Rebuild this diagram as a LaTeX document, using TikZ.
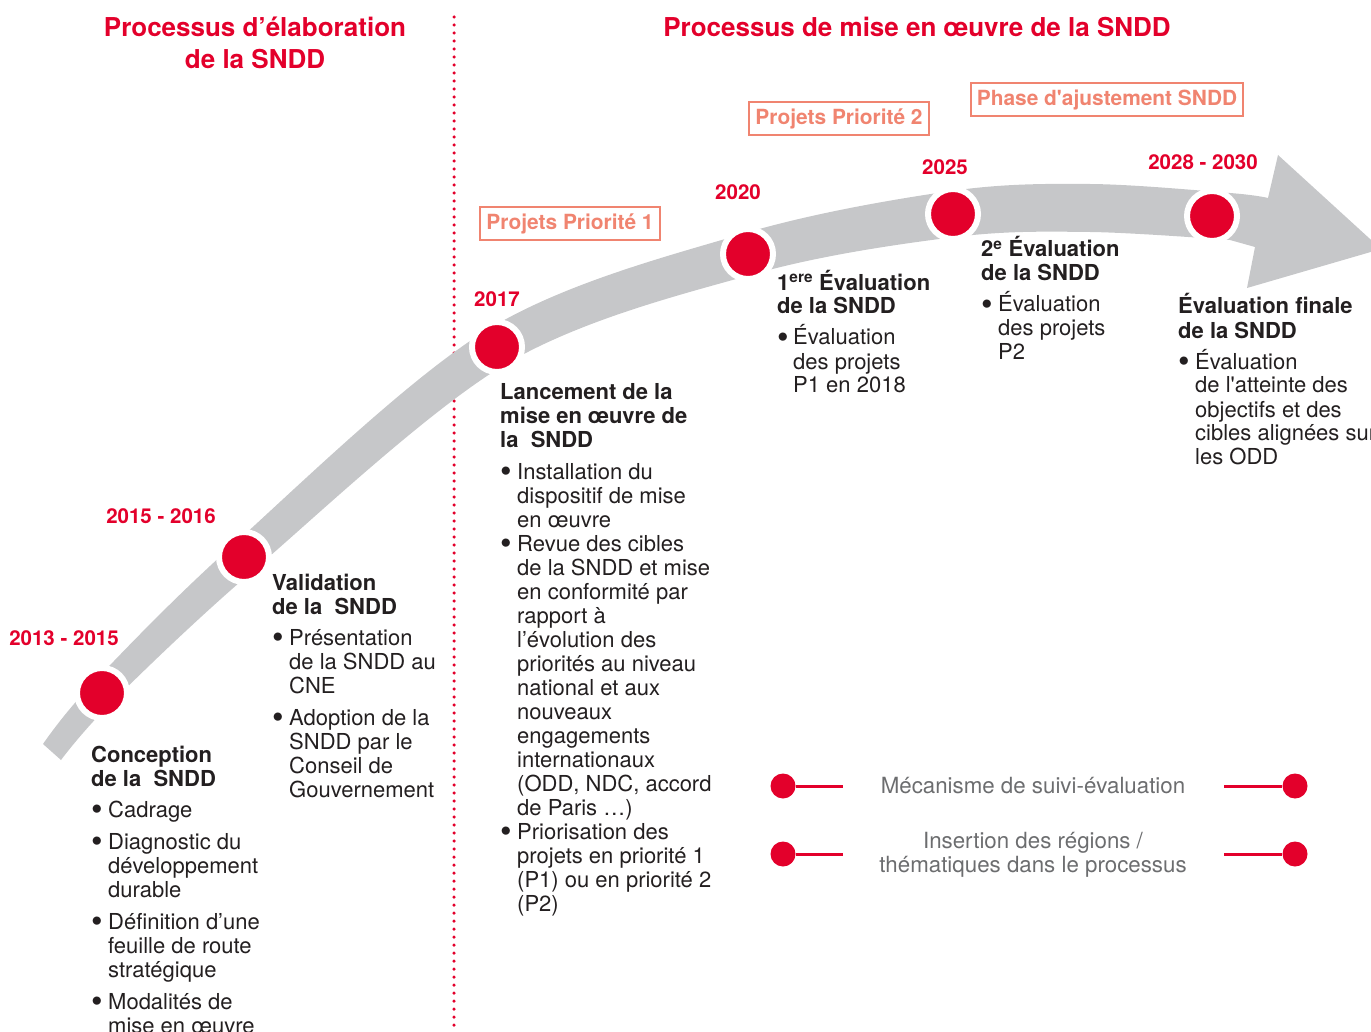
\documentclass[tikz,border=0pt]{standalone}
\usepackage{fontspec}
\setmainfont{TeX Gyre Heros}
\usepackage{tikz}
\usetikzlibrary{positioning,calc}

\definecolor{rouge}{RGB}{227,0,43}
\definecolor{saumon}{RGB}{240,132,112}
\definecolor{gris}{RGB}{198,199,201}
\definecolor{grisfonce}{RGB}{108,109,111}
\definecolor{noir}{RGB}{35,31,32}

\newcommand{\puce}{\makebox[17pt][l]{\raisebox{-0.17em}{\scalebox{1.5}{\textbullet}}}}
\newcommand{\suite}{\hspace*{17pt}}

\begin{document}
\begin{tikzpicture}[x=1pt,y=-1pt,
		titre/.style={text=rouge,font=\fontsize{26}{32}\selectfont\bfseries,align=center},
		annee/.style={text=rouge,font=\fontsize{20.5}{24}\selectfont\bfseries},
		cadre/.style={draw=saumon,line width=2pt,text=saumon,font=\fontsize{20.9}{24}\selectfont\bfseries,inner xsep=6pt,minimum height=33pt},
		jalon/.style={circle,fill=rouge,draw=white,line width=6pt,minimum size=50pt,inner sep=0pt},
		bloc/.style={anchor=north west,inner sep=0pt,text=noir,font=\fontsize{22}{24}\selectfont},
		legende/.style={text=grisfonce,font=\fontsize{22.3}{24}\selectfont,align=center},
		pastille/.style={circle,fill=rouge,minimum size=25pt,inner sep=0pt},
		lien/.style={draw=rouge,line width=3pt}]
		\useasboundingbox (0,0) rectangle (1371,1032);

		% titres et separateur
		\node[titre] (tElab) at (255,43) {Processus d’élaboration\\de la SNDD};
		\node[titre] (tMise) at (917,27) {Processus de mise en œuvre de la SNDD};
		\coordinate (sepHaut) at (454,17);
		\coordinate (sepBas) at (454,1032);
		\draw[rouge,line width=3.5pt,line cap=round,dash pattern=on 0pt off 8pt] (sepHaut) -- (sepBas);

		% bande grise et fleche
		\fill[gris] plot[smooth,tension=0.55] coordinates {(43,744) (92,684) (233,545) (487,330) (742,234) (951,191) (1090,184) (1230,193) (1268,198)}
			-- (1278,155) -- (1381,249) -- (1247,288) -- (1255,247)
			-- plot[smooth,tension=0.55] coordinates {(1230,240) (1090,232) (955,237) (754,274) (506,364) (255,569) (112,702) (61,760)} -- cycle;

		% jalons
		\node[jalon] (j2013) at (102,693) {};
		\node[jalon] (j2015) at (244,557) {};
		\node[jalon] (j2017) at (497,347) {};
		\node[jalon] (j2020) at (748,254) {};
		\node[jalon] (j2025) at (953,214) {};
		\node[jalon] (j2028) at (1212,216) {};

		\node[annee] (a2013) at (64,638) {2013 - 2015};
		\node[annee] (a2015) at (161,516) {2015 - 2016};
		\node[annee] (a2017) at (497,299) {2017};
		\node[annee] (a2020) at (738,192) {2020};
		\node[annee] (a2025) at (945,167) {2025};
		\node[annee] (a2028) at (1203,162) {2028 - 2030};

		\node[cadre] (prio1) at (570,224) {Projets Priorité 1};
		\node[cadre] (prio2) at (839,119) {Projets Priorité 2};
		\node[cadre] (ajust) at (1107,100) {Phase d\textquotesingle ajustement SNDD};

		% textes des etapes
		\node[bloc] (conception) at (91,745) {\begin{tabular}{@{}l@{}}
			\bfseries Conception\\
			\bfseries de la~~SNDD\\[7pt]
			\puce Cadrage\\[8pt]
			\puce Diagnostic du\\
			\suite développement\\
			\suite durable\\[8pt]
			\puce Définition d’une\\
			\suite feuille de route\\
			\suite stratégique\\[8pt]
			\puce Modalités de\\
			\suite mise en œuvre
		\end{tabular}};
		\node[bloc] (validation) at (272,573) {\begin{tabular}{@{}l@{}}
			\bfseries Validation\\
			\bfseries de la~~SNDD\\[7pt]
			\puce Présentation\\
			\suite de la SNDD au\\
			\suite CNE\\[8pt]
			\puce Adoption de la\\
			\suite SNDD par le\\
			\suite Conseil de\\
			\suite Gouvernement
		\end{tabular}};
		\node[bloc] (lancement) at (500,382) {\begin{tabular}{@{}l@{}}
			\bfseries Lancement de la\\
			\bfseries mise en œuvre de\\
			\bfseries la~~SNDD\\[8pt]
			\puce Installation du\\
			\suite dispositif de mise\\
			\suite en œuvre\\
			\puce Revue des cibles\\
			\suite de la SNDD et mise\\
			\suite en conformité par\\
			\suite rapport à\\
			\suite l’évolution des\\
			\suite priorités au niveau\\
			\suite national et aux\\
			\suite nouveaux\\
			\suite engagements\\
			\suite internationaux\\
			\suite (ODD, NDC, accord\\
			\suite de Paris …)\\
			\puce Priorisation des\\
			\suite projets en priorité 1\\
			\suite (P1) ou en priorité 2\\
			\suite (P2)
		\end{tabular}};
		\node[bloc] (eval1) at (777,273) {\begin{tabular}{@{}l@{}}
			\bfseries\smash{1\textsuperscript{ere} Évaluation}\\
			\bfseries de la SNDD\\[7pt]
			\makebox[16pt][l]{\raisebox{-0.17em}{\scalebox{1.5}{\textbullet}}}\smash{Évaluation}\\
			\hspace*{16pt}des projets\\
			\hspace*{16pt}P1 en 2018
		\end{tabular}};
		\node[bloc] (eval2) at (981,240) {\begin{tabular}{@{}l@{}}
			\bfseries\smash{2\textsuperscript{e} Évaluation}\\
			\bfseries de la SNDD\\[7pt]
			\puce\smash{Évaluation}\\
			\suite des projets\\
			\suite P2
		\end{tabular}};
		\node[bloc] (finale) at (1178,297) {\begin{tabular}{@{}l@{}}
			\bfseries\smash{Évaluation finale}\\
			\bfseries de la SNDD\\[7pt]
			\puce\smash{Évaluation}\\
			\suite de l\textquotesingle atteinte des\\
			\suite objectifs et des\\
			\suite cibles alignées sur\\
			\suite les ODD
		\end{tabular}};

		% legende
		\node[pastille] (suiviG) at (783,786) {};
		\node[pastille] (suiviD) at (1295,786) {};
		\coordinate (suiviGfin) at (843,786);
		\coordinate (suiviDdeb) at (1224,786);
		\node[legende] (suivi) at (1033,786) {Mécanisme de suivi-évaluation};
		\path[lien] (suiviG) -- (suiviGfin);
		\path[lien] (suiviDdeb) -- (suiviD);

		\node[pastille] (regG) at (783,854) {};
		\node[pastille] (regD) at (1295,854) {};
		\coordinate (regGfin) at (843,854);
		\coordinate (regDdeb) at (1224,854);
		\node[legende] (regions) at (1033,855) {Insertion des régions /\\thématiques dans le processus};
		\path[lien] (regG) -- (regGfin);
		\path[lien] (regDdeb) -- (regD);
	\end{tikzpicture}
\end{document}
